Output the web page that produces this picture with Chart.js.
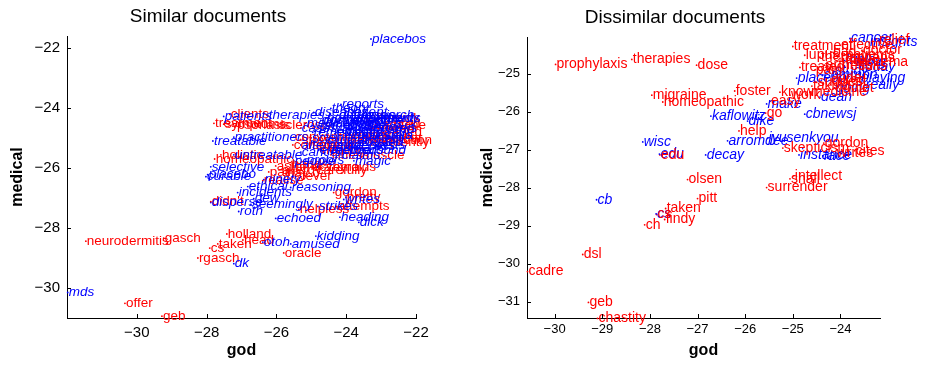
<!DOCTYPE html>
<html>
<head>
<meta charset="utf-8">
<script src="https://cdn.jsdelivr.net/npm/chart.js@4/dist/chart.umd.min.js"></script>
<style>
  body { margin: 0; background: #fff; }
  .panel { position: absolute; top: 0; }
</style>
</head>
<body>
<div class="panel" style="left:0"><canvas id="chartSimilar" width="470" height="365"></canvas></div>
<div class="panel" style="left:470px"><canvas id="chartDissimilar" width="463" height="365"></canvas></div>
<script>
// mots du panneau "Similar documents"
const simRedWords = ['neurodermitis', 'gasch', 'offer', 'geb', 'rgasch', 'cs', 'taken', 'holland', 'head', 'oracle',
  'helpless', 'gordon', 'pretty', 'attempts', "didn't", 'realise', 'treatment', 'symptoms', 'clients', 'psoriasis',
  'sclerosis', 'conventional', 'complaints', 'holistic', 'homeopathic', 'thyroids', 'carefully', 'hands', 'cured',
  'together', 'frequently', 'suffer', 'chronic', 'illness', 'healing', 'allergy', 'asthma', 'fever', 'hay', 'pains',
  'eczema', 'painful', 'disorder', 'sick', 'headache', 'aged', 'infection', 'severe', 'muscle', 'stress'];
const simRedX = [-31.46, -29.23, -30.34, -29.28, -28.25, -27.91, -27.68, -27.42, -26.96, -25.79,
  -25.36, -24.36, -24.01, -24.27, -27.88, -26.39, -27.79, -27.51, -27.34, -27.16,
  -25.96, -25.50, -25.53, -27.59, -27.77, -24.53, -24.87, -25.59, -22.87,
  -23.38, -23.35, -23.58, -23.87, -24.44, -24.73, -25.87, -26.02, -25.30, -25.73, -26.22,
  -25.01, -24.01, -23.24, -22.58, -23.44, -22.72, -23.01, -25.01, -23.58, -25.30];
const simRedY = [-28.44, -28.34, -30.51, -30.94, -29.00, -28.67, -28.53, -28.20, -28.40, -28.83,
  -27.38, -26.82, -26.98, -27.28, -27.12, -26.42, -24.51, -24.54, -24.21, -24.57,
  -24.57, -24.97, -25.23, -25.56, -25.70, -25.96, -26.06, -25.89, -24.54,
  -24.71, -25.14, -24.34, -24.90, -25.56, -25.40, -26.06, -25.93, -26.29, -26.19, -26.13,
  -25.96, -25.07, -25.00, -24.34, -24.57, -24.81, -25.07, -25.23, -25.56, -25.07];

const simBlueWords = ['placebos', 'mds', 'dk', 'otoh', 'amused', 'kidding', 'echoed', 'heading', 'dick', 'strikes',
  'writes', 'disperse', 'seemingly', 'roth', 'dew', 'incidents', 'ethical', 'reasoning', 'ninety', 'selective',
  'curable', 'placebo', 'treatable', 'practitioners', 'patients', 'therapies', 'diseases', 'reports', 'untreatable',
  'people', 'proofs', 'magic', 'doctors', 'medicine', 'drugs', 'effects', 'studies', 'clinical', 'evidence',
  'science', 'research', 'results', 'tested', 'effective', 'claims', 'remedies', 'alternative', 'cure', 'works',
  'around', 'treatments', 'patient', 'theory', 'physicians', 'homeopathy', 'trial', 'efficacy', 'benefit', 'proven',
  'study', 'cases', 'scientists', 'data', 'success', 'conditions', 'diagnosis', 'medications', 'tests', 'methods',
  'cancer'];
const simBlueX = [-23.29, -31.98, -27.22, -26.39, -25.59, -24.87, -26.02, -24.18, -23.64, -24.81,
  -24.07, -27.88, -26.73, -27.08, -26.65, -27.11, -26.82, -25.59, -26.36, -27.88,
  -28.02, -27.97, -27.82, -27.22, -27.51, -26.25, -24.93, -24.15, -27.22,
  -25.50, -25.16, -23.78, -24.73, -24.44, -24.15, -23.87, -24.01, -24.58, -24.30,
  -23.72, -23.58, -23.29, -23.44, -24.79, -24.15, -24.96, -25.30, -23.15, -23.01,
  -23.52, -23.72, -24.01, -24.44, -24.79, -24.58, -23.87, -24.30, -23.58, -23.24,
  -22.87, -25.30, -25.01, -22.87, -24.01, -24.67, -24.24, -25.16, -23.15, -24.44,
  -25.30];
const simBlueY = [-21.70, -30.15, -29.19, -28.47, -28.53, -28.27, -27.68, -27.64, -27.81, -27.28,
  -27.05, -27.15, -27.21, -27.45, -27.02, -26.82, -26.62, -26.65, -26.39, -25.96,
  -26.29, -26.22, -25.10, -24.97, -24.28, -24.24, -24.15, -23.88, -25.56,
  -25.76, -25.73, -25.76, -24.41, -24.57, -24.74, -24.41, -24.90, -25.07, -25.23,
  -24.64, -24.24, -24.90, -25.14, -25.40, -25.56, -24.81, -25.23, -24.41, -24.67,
  -25.40, -24.34, -24.15, -24.01, -24.64, -24.34, -24.57, -24.81, -25.00, -24.67,
  -24.34, -24.67, -25.00, -24.90, -25.27, -24.41, -24.24, -24.51, -25.23, -25.40,
  -25.47];

// mots du panneau "Dissimilar documents"
const disRedWords = ['prophylaxis', 'therapies', 'dose', 'treatment', 'relief', 'migraine', 'homeopathic', 'foster',
  'help', 'go', 'easy', 'know', 'work', 'treated', 'suggest', 'bad', 'happens', 'therapy', 'results', 'eczema',
  'doctor', 'pain', 'cured', 'taking', 'edu', 'skepticism', 'gordon', 'writes', 'cites', 'intellect', 'shall',
  'surrender', 'olsen', 'pitt', 'taken', 'cs', 'findy', 'ch', 'dsl', 'cadre', 'geb', 'chastity',
  'lupus', 'arthritis', 'effective', 'diet', 'medicine', 'side', 'patients'];
const disRedX = [-29.98, -28.38, -27.02, -25.00, -23.21, -27.96, -27.73, -26.22,
  -26.13, -25.57, -25.48, -25.27, -25.06, -24.85, -24.50, -24.18, -24.01, -24.43, -23.91, -23.63,
  -23.55, -24.54, -24.22, -24.60, -27.79, -25.21, -24.35, -24.10, -23.70, -24.98, -25.06,
  -25.55, -27.21, -27.00, -27.67, -27.86, -27.69, -28.11, -29.41, -30.57, -29.29, -29.10,
  -24.75, -24.33, -24.01, -23.80, -24.64, -24.12, -23.91];
const disRedY = [-24.76, -24.63, -24.78, -24.29, -24.13, -25.57, -25.75, -25.46,
  -26.51, -26.04, -25.73, -25.49, -25.57, -24.84, -25.23, -24.44, -24.60, -24.57, -24.81, -24.70,
  -24.39, -24.91, -25.18, -25.33, -27.14, -26.96, -26.83, -27.09, -27.03, -27.69, -27.77,
  -28.00, -27.79, -28.29, -28.55, -28.71, -28.84, -28.98, -29.76, -30.21, -31.02, -31.44,
  -24.52, -24.78, -24.26, -25.38, -25.49, -25.12, -24.52];

const disBlueWords = ['cancer', 'insights', 'kaflowitz', 'dike', 'make', 'dean', 'cbnewsj', 'placebo', 'common',
  'playing', 'trials', 'today', 'study', 'wisc', 'edu', 'decay', 'arromdee', 'jyusenkyou', 'instance', 'face',
  'cb', 'cs', 'really', 'going', 'thing'];
const disBlueX = [-23.80, -23.40, -26.72, -25.95, -25.55, -24.43, -24.75, -24.92, -24.37,
  -23.59, -23.91, -23.59, -24.14, -28.15, -27.80, -26.83, -26.37, -25.53, -24.87, -24.37,
  -29.12, -27.87, -23.49, -24.12, -23.70];
const disBlueY = [-24.08, -24.18, -26.12, -26.25, -25.80, -25.62, -26.07, -25.12, -25.04,
  -25.12, -24.66, -24.83, -24.95, -26.80, -27.12, -27.14, -26.77, -26.70, -27.14, -27.17,
  -28.32, -28.69, -25.31, -25.38, -24.70];

// axes
const simXTicks = [-30, -28, -26, -24, -22];
const simYTicks = [-30, -28, -26, -24, -22];
const disXTicks = [-30, -29, -28, -27, -26, -25, -24];
const disYTicks = [-31, -30, -29, -28, -27, -26, -25];

const RED = '#ff0000';
const BLUE = '#0000ff';

function points(words, xs, ys) {
  return words.map((w, i) => ({ x: xs[i], y: ys[i], label: w }));
}

function minus(v) {
  return String(v).replace('-', '\u2212');
}

// dessine les mots à coté des points
const textLabels = {
  id: 'textLabels',
  afterDatasetsDraw(chart) {
    const ctx = chart.ctx;
    const xs = chart.scales.x, ys = chart.scales.y;
    chart.data.datasets.forEach(ds => {
      ctx.save();
      ctx.fillStyle = ds.backgroundColor;
      ctx.font = ds.labelFont;
      ctx.textBaseline = 'middle';
      ctx.textAlign = 'left';
      ds.data.forEach(p => {
        ctx.fillText(p.label, xs.getPixelForValue(p.x) + 1, ys.getPixelForValue(p.y));
      });
      ctx.restore();
    });
  }
};

// petits traits vers l'intérieur comme dans matlab
const inwardTicks = {
  id: 'inwardTicks',
  afterDraw(chart) {
    const { ctx, chartArea: a, scales: { x, y } } = chart;
    ctx.save();
    ctx.strokeStyle = '#000';
    ctx.lineWidth = 1;
    ctx.beginPath();
    x.ticks.forEach(t => {
      const px = Math.round(x.getPixelForValue(t.value)) + 0.5;
      ctx.moveTo(px, a.bottom);
      ctx.lineTo(px, a.bottom - 4);
    });
    y.ticks.forEach(t => {
      const py = Math.round(y.getPixelForValue(t.value)) + 0.5;
      ctx.moveTo(a.left, py);
      ctx.lineTo(a.left + 4, py);
    });
    ctx.stroke();
    ctx.restore();
  }
};

function makeChart(id, cfg) {
  const ctx = document.getElementById(id).getContext('2d');
  return new Chart(ctx, {
    type: 'scatter',
    data: {
      datasets: cfg.datasets.map(d => ({
        data: d.data,
        backgroundColor: d.color,
        borderColor: d.color,
        pointRadius: 0.9,
        pointBorderWidth: 0,
        labelFont: d.font,
        clip: false
      }))
    },
    options: {
      responsive: false,
      animation: false,
      layout: { padding: { left: 0, right: cfg.padRight, top: 0, bottom: 0 } },
      plugins: {
        legend: { display: false },
        tooltip: { enabled: false },
        title: {
          display: true,
          text: cfg.title,
          color: '#000',
          font: { family: 'Liberation Sans', size: 19, weight: 'normal', lineHeight: 1.2 },
          padding: { top: cfg.titleTop, bottom: cfg.titleBottom }
        }
      },
      scales: {
        x: {
          type: 'linear',
          min: cfg.xMin,
          max: cfg.xMax,
          grid: { display: false, drawTicks: false },
          border: { display: true, color: '#000', width: 1 },
          afterBuildTicks: s => { s.ticks = cfg.xTicks.map(v => ({ value: v })); },
          afterFit: s => { s.height = 47; },
          ticks: {
            color: '#000',
            padding: cfg.xTickPad,
            font: { family: 'Liberation Sans', size: cfg.tickSize },
            callback: v => minus(v)
          },
          title: {
            display: true,
            text: 'god',
            color: '#000',
            font: { family: 'Liberation Sans', size: 16, weight: 'bold', lineHeight: 1.2 },
            padding: { top: 0, bottom: 5 }
          }
        },
        y: {
          type: 'linear',
          min: cfg.yMin,
          max: cfg.yMax,
          grid: { display: false, drawTicks: false },
          border: { display: true, color: '#000', width: 1 },
          afterBuildTicks: s => { s.ticks = cfg.yTicks.map(v => ({ value: v })); },
          afterFit: s => { s.width = cfg.yWidth; },
          ticks: {
            color: '#000',
            padding: 7,
            font: { family: 'Liberation Sans', size: cfg.tickSize },
            callback: v => minus(v)
          },
          title: {
            display: true,
            text: 'medical',
            color: '#000',
            font: { family: 'Liberation Sans', size: 16, weight: 'bold', lineHeight: 1.2 },
            padding: { top: 8, bottom: 0 }
          }
        }
      }
    },
    plugins: [textLabels, inwardTicks]
  });
}

makeChart('chartSimilar', {
  title: 'Similar documents',
  xMin: -32, xMax: -22, yMin: -31, yMax: -21.6,
  xTicks: simXTicks, yTicks: simYTicks,
  padRight: 54, yWidth: 67, titleTop: 5, titleBottom: 8.2,
  tickSize: 15, xTickPad: 6,
  datasets: [
    { data: points(simRedWords, simRedX, simRedY), color: RED, font: '13.5px "Liberation Sans"' },
    { data: points(simBlueWords, simBlueX, simBlueY), color: BLUE, font: 'italic 13.5px "Liberation Sans"' }
  ]
});

makeChart('chartDissimilar', {
  title: 'Dissimilar documents',
  xMin: -30.58, xMax: -23.17, yMin: -31.43, yMax: -24.04,
  xTicks: disXTicks, yTicks: disYTicks,
  padRight: 53, yWidth: 57, titleTop: 6, titleBottom: 8.2,
  tickSize: 13, xTickPad: 4,
  datasets: [
    { data: points(disBlueWords, disBlueX, disBlueY), color: BLUE, font: 'italic 14px "Liberation Sans"' },
    { data: points(disRedWords, disRedX, disRedY), color: RED, font: '14px "Liberation Sans"' }
  ]
});
</script>
</body>
</html>
